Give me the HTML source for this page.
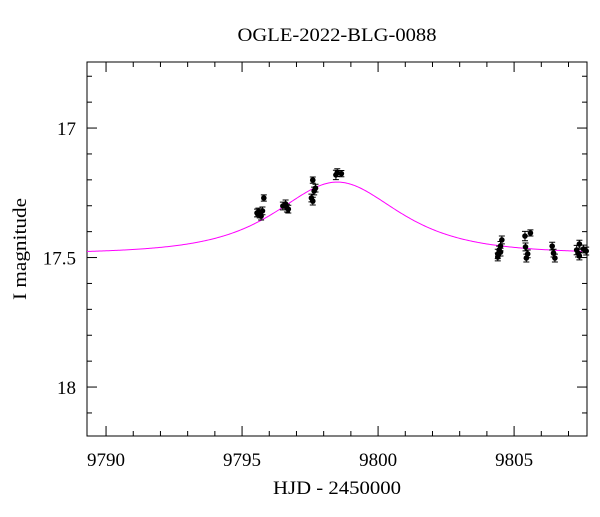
<!DOCTYPE html>
<html><head><meta charset="utf-8"><style>
body{margin:0;background:#fff}
svg text{font-family:"Liberation Serif",serif;fill:#000}
</style></head><body>
<svg id="c" width="600" height="512"></svg>
<script>
const times=[9795.6,9795.65,9795.7,9795.55,9795.75,9795.8,9796.5,9796.6,9796.65,9796.7,9797.6,9797.65,9797.7,9797.55,9797.6,9798.45,9798.5,9798.65,9804.4,9804.45,9804.5,9804.55,9804.4,9804.5,9805.4,9805.42,9805.45,9805.5,9805.6,9806.4,9806.45,9806.5,9807.3,9807.35,9807.4,9807.55,9807.65,9807.4];
const mags=[17.324,17.332,17.34,17.328,17.32,17.27,17.301,17.293,17.309,17.313,17.201,17.243,17.232,17.27,17.282,17.181,17.172,17.176,17.486,17.471,17.456,17.432,17.498,17.479,17.417,17.459,17.502,17.486,17.405,17.456,17.483,17.502,17.471,17.483,17.494,17.467,17.475,17.448];
const errs=[0.015,0.015,0.015,0.015,0.015,0.012,0.015,0.015,0.015,0.015,0.012,0.015,0.015,0.015,0.015,0.018,0.015,0.012,0.018,0.015,0.018,0.015,0.015,0.015,0.018,0.015,0.015,0.015,0.012,0.015,0.015,0.015,0.018,0.015,0.015,0.015,0.015,0.015];
const xTicks=[9790,9795,9800,9805];
const yTicks=[17,17.5,18];
const model={t0:9798.5,u0:1.08,tE:2.57,base:17.485};
const L=87,R=587,T=62,B=436;
const x0=9789.3,x1=9807.68,y0=16.745,y1=18.189;
const X=t=>L+(t-x0)/(x1-x0)*(R-L);
const Y=m=>T+(m-y0)/(y1-y0)*(B-T);
const svg=document.getElementById('c');const NS='http://www.w3.org/2000/svg';
function mk(tag,a,name,parent){const e=document.createElementNS(NS,tag);for(const k in a)e.setAttribute(k,a[k]);


(parent||svg).appendChild(e);return e;}
mk('rect',{x:L,y:T,width:R-L,height:B-T,fill:'none',stroke:'#000','stroke-width':1},'plot-frame');
const tg=mk('g',{stroke:'#000','stroke-width':1},'ticks');
for(let t=9790;t<=9807;t++){const len=(t%5===0)?10:5;const px=X(t);
mk('line',{x1:px,y1:B,x2:px,y2:B-len},'x-tick',tg);mk('line',{x1:px,y1:T,x2:px,y2:T+len},'x-tick-top',tg);}
for(let i=17;i<=181;i++){const m=i/10;if(m<y0||m>y1)continue;const len=(i%5===0)?10:5;const py=Y(m);
mk('line',{x1:L,y1:py,x2:L+len,y2:py},'y-tick',tg);mk('line',{x1:R,y1:py,x2:R-len,y2:py},'y-tick-right',tg);}
xTicks.forEach(t=>{const e=mk('text',{x:X(t),y:B+30,'text-anchor':'middle','font-size':19},'x-tick-label');e.textContent=t;});
yTicks.forEach(m=>{const e=mk('text',{x:L-11,y:Y(m)+7,'text-anchor':'end','font-size':19},'y-tick-label');e.textContent=m;});
let d='';for(let px=L;px<=R;px+=1){const t=x0+(px-L)/(R-L)*(x1-x0);const u=Math.hypot(model.u0,(t-model.t0)/model.tE);
const A=(u*u+2)/(u*Math.sqrt(u*u+4));const m=model.base-2.5*Math.log10(A);d+=(px===L?'M':'L')+px+','+Y(m).toFixed(2);}
mk('path',{d:d,fill:'none',stroke:'#ff00ff','stroke-width':1},'model-curve');
const pg=mk('g',{},'data-points');
times.forEach((t,i)=>{const px=X(t),py=Y(mags[i]),e1=Y(mags[i]-errs[i]),e2=Y(mags[i]+errs[i]);
mk('path',{d:`M${px},${e1}L${px},${e2}M${px-3},${e1}L${px+3},${e1}M${px-3},${e2}L${px+3},${e2}`,stroke:'#000','stroke-width':1},'error-bar',pg);
mk('circle',{cx:px,cy:py,r:2.8,fill:'#000'},'data-point',pg);});
let e=mk('text',{x:337,y:41,'text-anchor':'middle','font-size':19,textLength:199,lengthAdjust:'spacingAndGlyphs'},'chart-title');e.textContent='OGLE-2022-BLG-0088';
e=mk('text',{x:337,y:494,'text-anchor':'middle','font-size':19,textLength:128,lengthAdjust:'spacingAndGlyphs'},'x-axis-title');e.textContent='HJD - 2450000';
e=mk('text',{x:26,y:249,'text-anchor':'middle','font-size':19,textLength:102,lengthAdjust:'spacingAndGlyphs',transform:'rotate(-90 26 249)'},'y-axis-title');e.textContent='I magnitude';
</script></body></html>
